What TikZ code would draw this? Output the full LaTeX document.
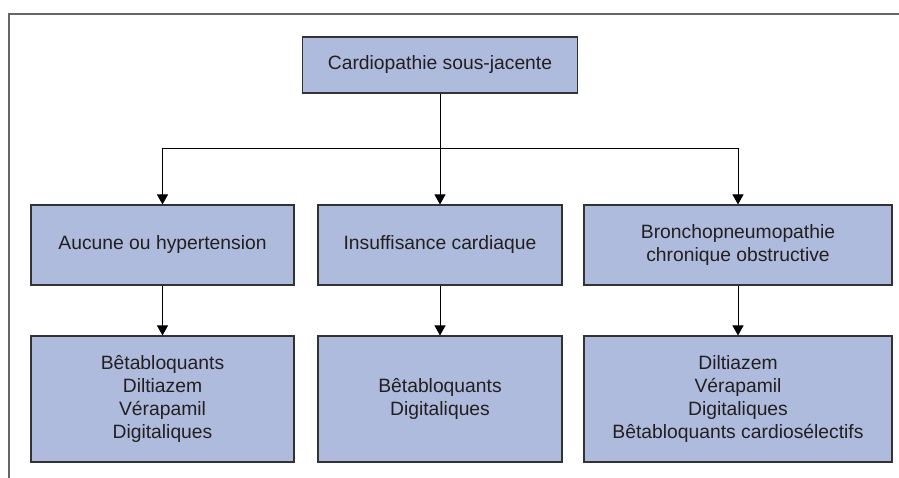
\documentclass[tikz,border=0pt]{standalone}
\usepackage{fontspec}
\setmainfont{Liberation Sans}
\usetikzlibrary{arrows.meta}
\definecolor{boxfill}{HTML}{AEBBDD}
\definecolor{boxline}{HTML}{333333}
\definecolor{textcol}{HTML}{231F20}
\definecolor{framecol}{HTML}{666666}
\begin{document}
\begin{tikzpicture}[x=1pt, y=-1pt,
    box/.style={draw=boxline, fill=boxfill, line width=1.1pt, text=textcol, align=center,
        inner sep=0pt, font=\fontsize{19.3}{23}\selectfont},
    arr/.style={-{Triangle[width=11pt,length=10pt]}, line width=0.9pt, color=black}]
    \useasboundingbox (0,0) rectangle (899,478);
    \draw[framecol, line width=2pt] (9,478) -- (9,14) -- (899,14);
    \node[box, minimum width=275pt, minimum height=56pt] (top) at (440,65) {Cardiopathie sous-jacente};
    \node[box, minimum width=263pt, minimum height=80pt] (aucune) at (162.5,245) {Aucune ou hypertension};
    \node[box, minimum width=244pt, minimum height=80pt] (insuff) at (440,245) {Insuffisance cardiaque};
    \node[box, minimum width=308pt, minimum height=80pt] (bpco) at (738,245) {Bronchopneumopathie\\chronique obstructive};
    \node[box, minimum width=263pt, minimum height=126pt] (trt1) at (162.5,399) {Bêtabloquants\\Diltiazem\\Vérapamil\\Digitaliques};
    \node[box, minimum width=244pt, minimum height=126pt] (trt2) at (440,399) {Bêtabloquants\\Digitaliques};
    \node[box, minimum width=308pt, minimum height=126pt] (trt3) at (738,399) {Diltiazem\\Vérapamil\\Digitaliques\\Bêtabloquants cardiosélectifs};
    \coordinate (split) at (440,148);
    \draw[line width=0.9pt] (top) -- (split);
    \draw[arr] (split) -| (aucune);
    \draw[arr] (split) -- (insuff);
    \draw[arr] (split) -| (bpco);
    \draw[arr] (aucune) -- (trt1);
    \draw[arr] (insuff) -- (trt2);
    \draw[arr] (bpco) -- (trt3);
\end{tikzpicture}
\end{document}
